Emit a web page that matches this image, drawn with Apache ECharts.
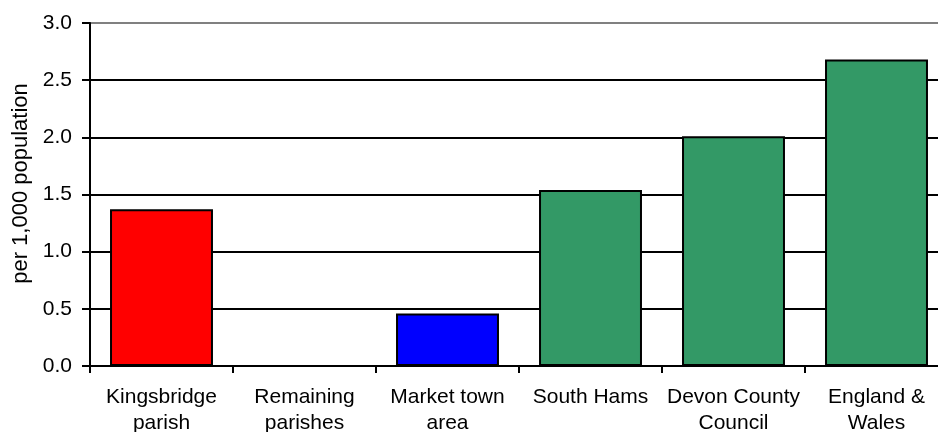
<!DOCTYPE html>
<html>
<head>
<meta charset="utf-8">
<script src="https://cdn.jsdelivr.net/npm/echarts@6/dist/echarts.min.js"></script>
<style>
html,body{margin:0;padding:0;background:#fff;}
#chart{width:938px;height:432px;}
</style>
</head>
<body>
<div id="chart"></div>
<script>
var categories = ["Kingsbridge\nparish", "Remaining\nparishes", "Market town\narea", "South Hams", "Devon County\nCouncil", "England &\nWales"];
var values = [1.37, 0, 0.46, 1.54, 2.01, 2.68];
var barColors = ["#FF0000", "#FF0000", "#0000FF", "#339966", "#339966", "#339966"];
var yTicks = [0, 0.5, 1.0, 1.5, 2.0, 2.5, 3.0];
var yName = "per 1,000 population";

var FONT = "'Liberation Sans', Arial, sans-serif";
var chart = echarts.init(document.getElementById('chart'), null, {renderer: 'canvas'});
chart.setOption({
  animation: false,
  backgroundColor: '#fff',
  grid: {left: 90, top: 23, width: 858, height: 343, containLabel: false, outerBoundsMode: 'none'},
  xAxis: {
    type: 'category',
    data: categories,
    axisLine: {lineStyle: {color: '#000', width: 2}},
    axisTick: {show: true, length: 7, lineStyle: {color: '#000', width: 2}},
    axisLabel: {color: '#000', fontFamily: FONT, fontSize: 21, lineHeight: 26, margin: 18, interval: 0}
  },
  yAxis: {
    type: 'value',
    min: yTicks[0], max: yTicks[yTicks.length - 1], interval: 0.5,
    name: yName,
    nameLocation: 'middle',
    nameGap: 50,
    nameTextStyle: {color: '#000', fontFamily: FONT, fontSize: 22, padding: [0, 0, 0, 22]},
    axisLine: {show: true, lineStyle: {color: '#000', width: 2}},
    axisTick: {show: true, length: 8, lineStyle: {color: '#000', width: 2}},
    axisLabel: {color: '#000', fontFamily: FONT, fontSize: 21, margin: 18,
      formatter: function (v) { return v.toFixed(1); }},
    splitLine: {show: true, lineStyle: {color: ['#000', '#000', '#000', '#000', '#000', '#000', '#808080'], width: 2}}
  },
  series: [{
    type: 'bar',
    barCategoryGap: '28%',
    data: values.map(function (v, i) {
      return {value: v, itemStyle: {color: barColors[i], borderColor: '#000', borderWidth: 2}};
    })
  }]
});
</script>
</body>
</html>
